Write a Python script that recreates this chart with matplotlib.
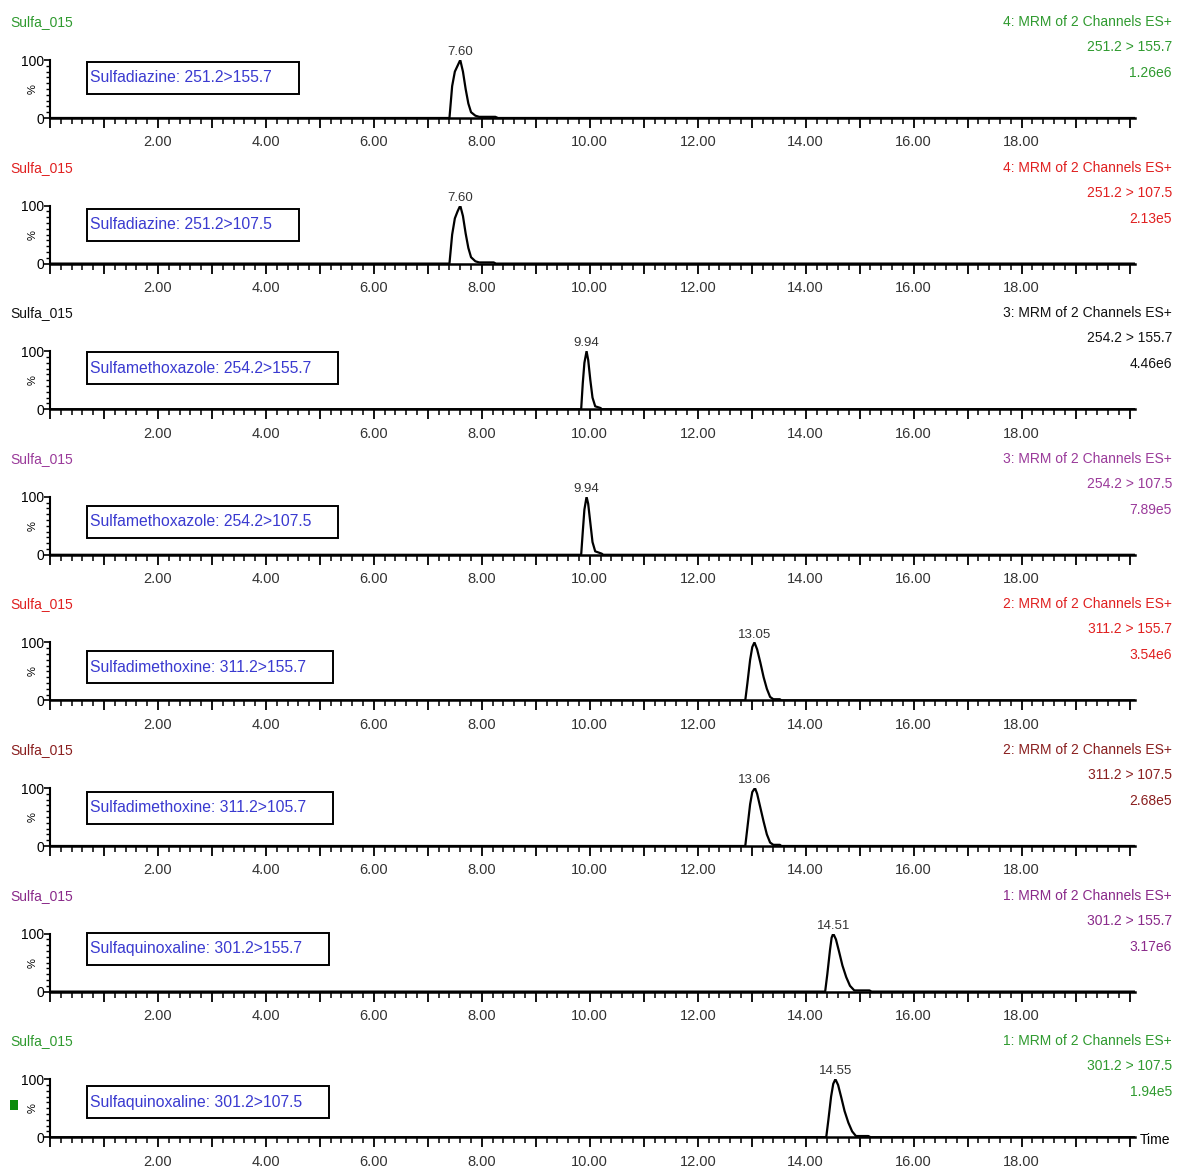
import matplotlib
matplotlib.use('Agg')
import matplotlib.pyplot as plt
from matplotlib.patches import Rectangle
from matplotlib.ticker import MultipleLocator, FixedLocator

plt.rcParams['font.family'] = ['Liberation Sans', 'DejaVu Sans']

# data
sample = 'Sulfa_015'
box_labels = ['Sulfadiazine: 251.2>155.7', 'Sulfadiazine: 251.2>107.5',
              'Sulfamethoxazole: 254.2>155.7', 'Sulfamethoxazole: 254.2>107.5',
              'Sulfadimethoxine: 311.2>155.7', 'Sulfadimethoxine: 311.2>105.7',
              'Sulfaquinoxaline: 301.2>155.7', 'Sulfaquinoxaline: 301.2>107.5']
functions = ['4: MRM of 2 Channels ES+', '4: MRM of 2 Channels ES+',
             '3: MRM of 2 Channels ES+', '3: MRM of 2 Channels ES+',
             '2: MRM of 2 Channels ES+', '2: MRM of 2 Channels ES+',
             '1: MRM of 2 Channels ES+', '1: MRM of 2 Channels ES+']
transitions = ['251.2 > 155.7', '251.2 > 107.5', '254.2 > 155.7', '254.2 > 107.5',
               '311.2 > 155.7', '311.2 > 107.5', '301.2 > 155.7', '301.2 > 107.5']
intensities = ['1.26e6', '2.13e5', '4.46e6', '7.89e5', '3.54e6', '2.68e5', '3.17e6', '1.94e5']
apex_labels = ['7.60', '7.60', '9.94', '9.94', '13.05', '13.06', '14.51', '14.55']
apex_times = [7.60, 7.60, 9.94, 9.94, 13.05, 13.06, 14.51, 14.55]
colors = ['#2f9a2f', '#e02020', '#111111', '#9a3a9a', '#e02020', '#8a1f1f', '#8a2a8a', '#2f9a2f']
box_y = [69, 67, 71, 57, 57, 66, 74, 60]

t1 = [0, 7.40, 7.45, 7.50, 7.55, 7.60, 7.65, 7.70, 7.75, 7.80, 7.88, 7.95, 8.25, 8.30, 20.1]
i1 = [0, 0, 55, 80, 90, 100, 80, 50, 25, 10, 4, 2, 2, 0, 0]
t2 = [0, 7.40, 7.45, 7.50, 7.55, 7.60, 7.65, 7.70, 7.75, 7.80, 7.88, 7.95, 8.22, 8.26, 20.1]
i2 = [0, 0, 50, 78, 90, 100, 82, 52, 27, 11, 4, 2, 2, 0, 0]
t3 = [0, 9.84, 9.87, 9.90, 9.94, 9.97, 10.01, 10.05, 10.10, 10.20, 10.22, 20.1]
i3 = [0, 0, 45, 80, 100, 85, 50, 20, 5, 2, 0, 0]
t4 = [0, 9.84, 9.87, 9.90, 9.94, 9.97, 10.01, 10.05, 10.10, 10.22, 10.25, 20.1]
i4 = [0, 0, 40, 78, 100, 88, 55, 22, 6, 2, 0, 0]
t5 = [0, 12.88, 12.92, 12.97, 13.01, 13.05, 13.10, 13.16, 13.22, 13.28, 13.34, 13.40, 13.52, 13.55, 20.1]
i5 = [0, 0, 30, 70, 92, 100, 88, 65, 40, 20, 6, 2, 2, 0, 0]
t6 = [0, 12.88, 12.92, 12.97, 13.01, 13.06, 13.10, 13.16, 13.22, 13.28, 13.34, 13.40, 13.52, 13.55, 20.1]
i6 = [0, 0, 32, 72, 93, 100, 90, 66, 42, 20, 6, 2, 2, 0, 0]
t7 = [0, 14.36, 14.40, 14.45, 14.48, 14.51, 14.56, 14.62, 14.68, 14.75, 14.82, 14.90, 15.18, 15.22, 20.1]
i7 = [0, 0, 30, 72, 93, 100, 90, 68, 45, 25, 10, 2, 2, 0, 0]
t8 = [0, 14.38, 14.42, 14.47, 14.51, 14.55, 14.60, 14.66, 14.72, 14.79, 14.86, 14.93, 15.16, 15.20, 20.1]
i8 = [0, 0, 30, 70, 92, 100, 90, 68, 45, 25, 10, 2, 2, 0, 0]
times = [t1, t2, t3, t4, t5, t6, t7, t8]
signals = [i1, i2, i3, i4, i5, i6, i7, i8]

W, H = 1177, 1170
pitch = 145.6
fig = plt.figure(figsize=(W / 100, H / 100), dpi=100)

texts = []
for k in range(8):
    base = 118 + k * pitch
    ax = fig.add_axes([50 / W, 1 - base / H, 1085 / W, 58 / H])
    ax.plot(times[k], signals[k], color='black', lw=1.6)
    ax.set_xlim(0, 20.1)
    ax.set_ylim(0, 100)
    for s in ['top', 'right']:
        ax.spines[s].set_visible(False)
    ax.spines['left'].set_linewidth(1.5)
    ax.spines['bottom'].set_linewidth(1.8)
    ax.xaxis.set_major_locator(MultipleLocator(1))
    ax.xaxis.set_minor_locator(MultipleLocator(0.2))
    ax.set_xticklabels([])
    ax.tick_params(axis='x', which='major', length=7, width=1.3, direction='out')
    ax.tick_params(axis='x', which='minor', length=4, width=1.1, direction='out')
    for tv in range(2, 20, 2):
        ax.text(tv, -42, '%.2f' % tv, ha='center', va='center', fontsize=10.5, color='#333333')
    ax.yaxis.set_major_locator(FixedLocator([0, 100]))
    ax.yaxis.set_minor_locator(MultipleLocator(10))
    ax.set_yticklabels(['0', '100'], fontsize=10)
    ax.tick_params(axis='y', which='major', length=4, width=1.2, pad=0)
    ax.tick_params(axis='y', which='minor', length=3, width=1.0)
    ax.text(-0.22, 50, '%', rotation=90, ha='right', va='center', fontsize=8)
    ax.text(apex_times[k], 103, apex_labels[k], ha='center', va='bottom', fontsize=9.5,
            color='#333333', clip_on=False)
    txt = ax.text(0.74, box_y[k], box_labels[k], ha='left', va='center', fontsize=11.3,
                  color='#3a3ad0')
    texts.append(txt)

    top = 22 + k * pitch
    fig.text(10 / W, 1 - top / H, sample, ha='left', va='center', fontsize=10, color=colors[k])
    fig.text(1172 / W, 1 - top / H, functions[k], ha='right', va='center', fontsize=10, color=colors[k])
    fig.text(1172 / W, 1 - (top + 25) / H, transitions[k], ha='right', va='center', fontsize=10, color=colors[k])
    fig.text(1172 / W, 1 - (top + 51) / H, intensities[k], ha='right', va='center', fontsize=10, color=colors[k])

fig.text(1140 / W, 1 - 1140 / H, 'Time', ha='left', va='center', fontsize=10)
fig.patches.append(Rectangle((10 / W, 1 - 1110 / H), 8 / W, 10 / H, transform=fig.transFigure,
                             facecolor='#0a8a0a', edgecolor='none'))

# frame each label with a box that leaves extra room on the right
fig.canvas.draw()
r = fig.canvas.get_renderer()
for txt in texts:
    bb = txt.get_window_extent(r)
    cy = (bb.y0 + bb.y1) / 2
    rect = Rectangle((bb.x0 - 3, cy - 16), bb.width + 30, 32, transform=None,
                     fill=False, edgecolor='black', lw=1.4)
    fig.patches.append(rect)

fig.savefig('out.png', dpi=100)
